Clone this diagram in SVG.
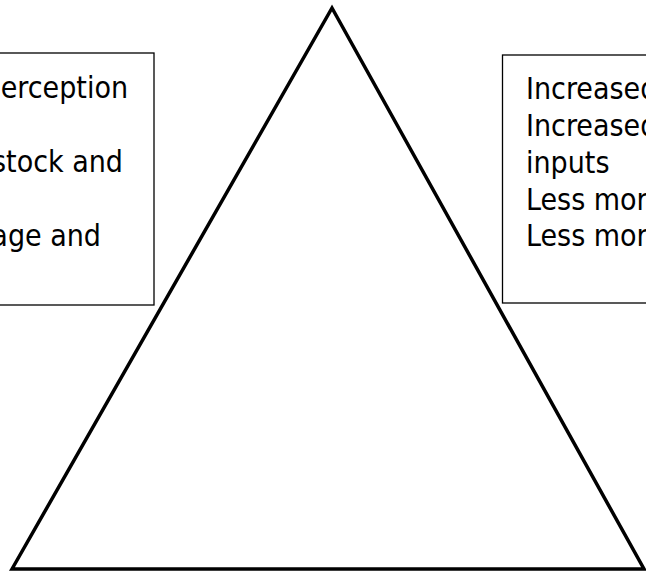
<svg xmlns="http://www.w3.org/2000/svg" width="646" height="575" viewBox="0 0 646 575">
  <style>
    .box { fill: #ffffff; stroke: #000000; stroke-width: 1.3; }
    .tri { fill: none; stroke: #000000; stroke-width: 3.5; stroke-linejoin: miter; stroke-miterlimit: 10; }
    .txt { font-family: "DejaVu Sans Condensed", "DejaVu Sans", sans-serif; font-size: 30px; fill: #000000; }
  </style>
  <rect width="646" height="575" fill="#ffffff"/>
  <g id="connectors">
    <polygon id="triangle" class="tri" points="12,569 332,8 644,569"/>
  </g>
  <g id="left-box">
    <rect class="box" x="-10" y="53" width="164" height="252"/>
    <text class="txt" x="128" y="98" text-anchor="end">erception</text>
    <text class="txt" x="123" y="172" text-anchor="end">stock and</text>
    <text class="txt" x="101" y="246" text-anchor="end">age and</text>
  </g>
  <g id="right-box">
    <rect class="box" x="502.5" y="55" width="160" height="248"/>
    <text class="txt" x="526" y="99">Increased</text>
    <text class="txt" x="526" y="136">Increased</text>
    <text class="txt" x="526" y="173">inputs</text>
    <text class="txt" x="526" y="210">Less mor</text>
    <text class="txt" x="526" y="246">Less mor</text>
  </g>
</svg>
